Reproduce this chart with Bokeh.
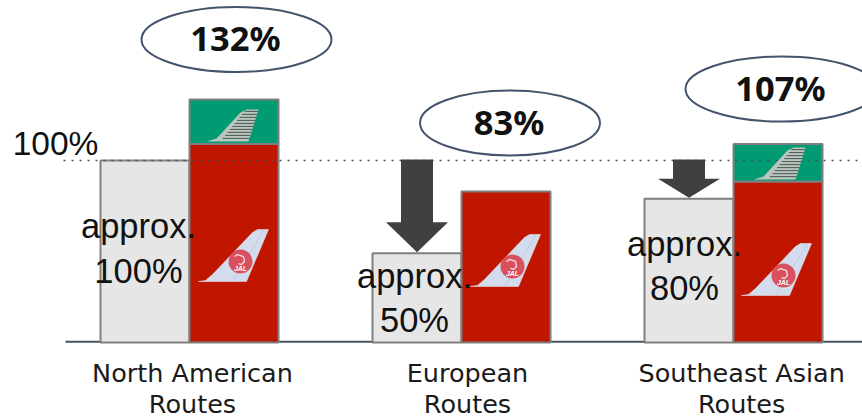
from bokeh.plotting import figure
from bokeh.embed import file_html
from bokeh.resources import INLINE
from bokeh.core.properties import value
from bokeh.models import Range1d

routes = ["North American\nRoutes", "European\nRoutes", "Southeast Asian\nRoutes"]
positions = [0, 1, 2]
label_positions = [0.011, 1.022, 2.03]
capacity = [100, 49, 79]            # grey bars
jal = [109, 83, 88.5]               # red bars
partner = [24.5, 0, 20.5]           # green stacked bars
total_labels = ["132%", "83%", "107%"]
approx_labels = ["approx.\n100%", "approx.\n50%", "approx.\n80%"]

PX_X = 272.0      # pixels per group
PX_Y = 1.82       # pixels per percent
BAR = 89 / PX_X
X0, X1 = -189 / PX_X, 673 / PX_X
Y0, Y1 = -74 / PX_Y, 342 / PX_Y

GREY, RED, GREEN = "#e6e6e6", "#c01600", "#009a73"
EDGE, NAVY, DARK = "#7f7f7f", "#44546a", "#404040"

p = figure(width=862, height=416, x_range=Range1d(X0, X1), y_range=Range1d(Y0, Y1),
           output_backend="svg", toolbar_location=None, y_axis_location=None, x_axis_location=None,
           min_border_left=0, min_border_right=0, min_border_top=0, min_border_bottom=0,
           background_fill_color="white", border_fill_color="white", outline_line_color=None)
p.grid.visible = False

# category labels
p.text(label_positions, [-46 / PX_Y] * 3, text=routes, text_font=value("DejaVu Sans"),
       text_font_size="25.5px", text_align="center", text_baseline="middle",
       text_line_height=1.06, text_color="#1a1a1a")

# baseline
p.line([-124 / PX_X, X1], [0.4, 0.4], line_color=NAVY, line_width=2)

# bars
p.quad(left=[x - BAR for x in positions], right=positions, bottom=0, top=capacity,
       fill_color=GREY, line_color=EDGE, line_width=2)
p.quad(left=positions, right=[x + BAR for x in positions], bottom=0, top=jal,
       fill_color=RED, line_color=EDGE, line_width=2)
gx = [x for x, v in zip(positions, partner) if v > 0]
gb = [j for j, v in zip(jal, partner) if v > 0]
gt = [j + v for j, v in zip(jal, partner) if v > 0]
p.quad(left=gx, right=[x + BAR for x in gx], bottom=gb, top=gt,
       fill_color=GREEN, line_color=EDGE, line_width=2)

# 100 % reference
p.line([-126 / PX_X, X1], [100, 100], line_color=NAVY, line_width=1.5, line_dash="2 6")
p.text([-134 / PX_X], [100 + 17 / PX_Y], text=["100%"], text_font=value("Liberation Sans"),
       text_font_size="33.5px", text_align="center", text_baseline="middle", text_color="#111111")


def sx(dx):
    return dx / PX_X


def sy(dy):
    return dy / PX_Y


# JAL tails: anchor is the root-left corner, in group/percent units
tail_x = [9 / PX_X, 9 / PX_X, 8 / PX_X]
tail_y = [33.5, 30.8, 25.8]
outline = [(0, 0), (7, 1), (14, 7), (54, 49), (59, 52), (70, 52), (48, 0)]
for gx0, tx, ty in zip(positions, tail_x, tail_y):
    ox = gx0 + tx
    p.patch([ox + sx(a) for a, b in outline], [ty + sy(b) for a, b in outline],
            fill_color="#d3dcec", line_color="#e9eef6", line_width=0.5)
    p.line([ox + sx(34), ox + sx(66)], [ty + sy(0), ty + sy(52)], line_color="#b9c4d8", line_width=0.7)
    cx, cy = ox + sx(42), ty + sy(20)
    p.ellipse([cx], [cy], width=sx(24), height=sy(24), fill_color="#d9505f", line_color=None)
    p.line([cx - sx(6), cx - sx(3), cx + sx(3), cx + sx(4), cx + sx(1), cx - sx(2)],
           [cy + sy(5), cy + sy(7), cy + sy(5), cy + sy(0), cy - sy(3), cy - sy(2)],
           line_color="#f5dfe2", line_width=1.3)
    p.text([cx], [cy - sy(7)], text=["JAL"], text_font=value("Liberation Sans"), text_font_size="7px",
           text_font_style="bold italic", text_align="center", text_baseline="middle", text_color="white")

# partner tails
ptail_x = [17 / PX_X, 20 / PX_X]
ptail_y = [110.5, 89.5]
ptail_g = [0, 2]
shape = [(0, 0), (10, 3), (34, 29), (40, 32), (52, 32), (42, 0)]
for gx0, tx, ty in zip(ptail_g, ptail_x, ptail_y):
    ox = gx0 + tx
    p.patch([ox + sx(a) for a, b in shape], [ty + sy(b) for a, b in shape],
            fill_color="#b9c6be", line_color=None)
    for k in range(1, 11):
        yk = k * 3
        xl = 9 + yk * 0.88
        xr = 42 + yk * 0.31
        p.line([ox + sx(xl + (xr - xl) * 0.15), ox + sx(xr)], [ty + sy(yk), ty + sy(yk)],
               line_color="#4c5650", line_width=1)

# reduction arrows, from 100 % to the grey bar top
arrow_groups = [1, 2]
arrow_tips = [capacity[1], capacity[2]]
arrow_head = [31, 20]
for g, tip, head in zip(arrow_groups, arrow_tips, arrow_head):
    cx = g - BAR / 2
    sw, hw = sx(16), sx(31)
    neck = tip + sy(head)
    p.patch([cx - sw, cx + sw, cx + sw, cx + hw, cx, cx - hw, cx - sw],
            [100.5, 100.5, neck, neck, tip + sy(1), neck, neck],
            fill_color=DARK, line_color=None)

# approx labels
label_x = [-51 / PX_X, 1 - 47 / PX_X, 2 - 49 / PX_X]
label_y = [(342 - 248) / PX_Y, (342 - 297.5) / PX_Y, (342 - 265.5) / PX_Y]
p.text(label_x, label_y, text=approx_labels, text_font=value("Liberation Sans"), text_font_size="34.5px",
       text_align="center", text_baseline="middle", text_line_height=1.17, text_color="#111111")

# total ovals
oval_x = [47 / PX_X, 1 + 48.5 / PX_X, 2 + 48 / PX_X]
oval_y = [(342 - 39) / PX_Y, (342 - 122.5) / PX_Y, (342 - 88.5) / PX_Y]
oval_w = [sx(190), sx(180), sx(192)]
p.ellipse(oval_x, oval_y, width=oval_w, height=sy(65), fill_color="white", line_color=NAVY, line_width=2)
p.text([x - sx(1) for x in oval_x], [y + sy(2) for y in oval_y], text=total_labels,
       text_font=value("Noto Sans"), text_font_size="34.5px",
       text_font_style="bold", text_align="center", text_baseline="middle", text_color="#111111")

open("out.html", "w").write(file_html(p, INLINE))
